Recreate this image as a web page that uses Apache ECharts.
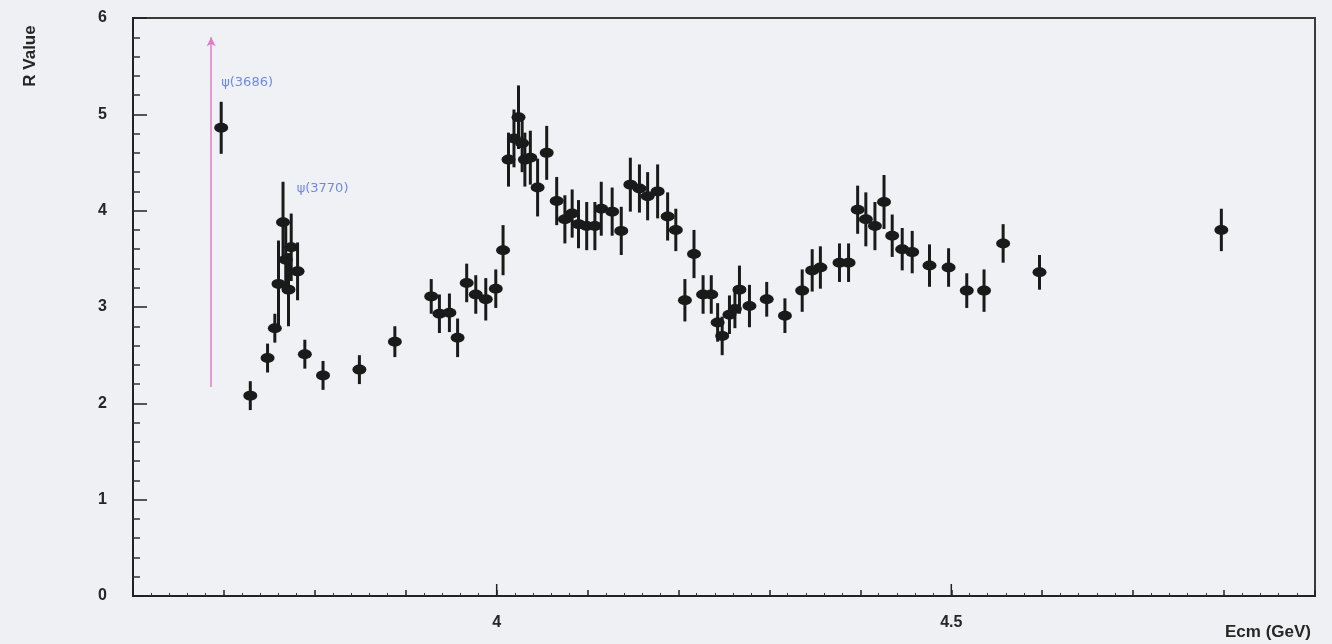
<!DOCTYPE html>
<html>
<head>
<meta charset="utf-8">
<script src="https://cdn.jsdelivr.net/npm/echarts@6/dist/echarts.min.js"></script>
<style>
html,body{margin:0;padding:0;background:#eef0f3;}
#chart{width:1332px;height:644px;}
</style>
</head>
<body>
<div id="chart"></div>
<script>
// Data
const energy = [3.697,3.729,3.748,3.756,3.760,3.765,3.768,3.771,3.774,3.781,3.789,3.809,3.849,3.888,
  3.928,3.937,3.948,3.957,3.967,3.977,3.988,3.999,4.007,4.013,4.019,4.024,4.028,4.031,4.037,4.045,4.055,
  4.066,4.075,4.083,4.090,4.099,4.108,4.115,4.127,4.137,4.147,4.157,4.166,4.177,4.188,4.197,4.207,4.217,
  4.227,4.236,4.243,4.248,4.256,4.262,4.267,4.278,4.297,4.317,4.336,4.347,4.356,4.377,4.387,4.397,4.406,
  4.416,4.426,4.435,4.446,4.457,4.476,4.497,4.517,4.536,4.557,4.597,4.797];
const rValue = [4.86,2.08,2.47,2.78,3.24,3.88,3.49,3.18,3.62,3.37,2.51,2.29,2.35,2.64,
  3.11,2.93,2.94,2.68,3.25,3.13,3.08,3.19,3.59,4.53,4.75,4.97,4.70,4.53,4.55,4.24,4.60,
  4.10,3.91,3.97,3.86,3.84,3.84,4.02,3.99,3.79,4.27,4.23,4.15,4.20,3.94,3.80,3.07,3.55,
  3.13,3.13,2.84,2.70,2.92,2.98,3.18,3.01,3.08,2.91,3.17,3.38,3.41,3.46,3.46,4.01,3.91,
  3.84,4.09,3.74,3.60,3.57,3.43,3.41,3.17,3.17,3.66,3.36,3.80];
const rError = [0.27,0.15,0.15,0.15,0.45,0.42,0.35,0.38,0.35,0.30,0.15,0.15,0.15,0.16,
  0.18,0.20,0.20,0.20,0.20,0.20,0.22,0.20,0.26,0.28,0.30,0.33,0.30,0.28,0.28,0.30,0.28,
  0.25,0.25,0.25,0.25,0.25,0.25,0.28,0.25,0.25,0.28,0.25,0.25,0.28,0.25,0.22,0.22,0.25,
  0.20,0.20,0.20,0.20,0.20,0.20,0.25,0.22,0.18,0.18,0.22,0.22,0.22,0.20,0.20,0.25,0.28,
  0.25,0.28,0.22,0.22,0.22,0.22,0.20,0.18,0.22,0.20,0.18,0.22];

const xLabelValues = [4, 4.5];
const resonanceX = [3.686];
const resonanceRange = [2.17, 5.8];
const resonanceLabels = ['ψ(3686)', 'ψ(3770)'];
const resonanceLabelX = [3.697, 3.780];
const resonanceLabelY = [5.33, 4.23];

const points = energy.map((e, i) => [e, rValue[i], rError[i]]);

const chart = echarts.init(document.getElementById('chart'), null, {renderer: 'canvas'});
const labelFont = {color: '#262626', fontSize: 16, fontWeight: 'bold', fontFamily: 'Liberation Sans, Arial, sans-serif'};

chart.setOption({
  backgroundColor: '#eef0f3',
  animation: false,
  grid: {left: 133, right: 17, top: 18, bottom: 48, show: true, borderColor: '#3a3a3a', borderWidth: 2, backgroundColor: '#eff1f4'},
  xAxis: {
    type: 'value', min: 3.6, max: 4.9, interval: 0.1,
    axisLine: {onZero: false, lineStyle: {color: '#222', width: 2}},
    axisTick: {inside: true, length: 6, lineStyle: {color: '#222', width: 1.5}},
    minorTick: {show: true, splitNumber: 5, length: 3, lineStyle: {color: '#333', width: 1}},
    splitLine: {show: false},
    axisLabel: Object.assign({margin: 19, formatter: v => {
      const hit = xLabelValues.find(t => Math.abs(t - v) < 1e-6);
      return hit === undefined ? '' : String(hit);
    }}, labelFont)
  },
  yAxis: {
    type: 'value', min: 0, max: 6, interval: 1,
    axisLine: {lineStyle: {color: '#222', width: 2}},
    axisTick: {inside: true, length: 14, lineStyle: {color: '#222', width: 1.5}},
    minorTick: {show: true, splitNumber: 5, length: 7, lineStyle: {color: '#333', width: 1.5}},
    splitLine: {show: false},
    axisLabel: Object.assign({margin: 26}, labelFont)
  },
  graphic: [
    {type: 'text', x: 30, y: 56, rotation: Math.PI / 2, style: {text: 'R Value', fill: '#262626', font: 'bold 17px Liberation Sans, Arial, sans-serif', textAlign: 'center', textVerticalAlign: 'middle'}},
    {type: 'text', x: 1311, y: 632, style: {text: 'Ecm (GeV)', fill: '#262626', font: 'bold 17px Liberation Sans, Arial, sans-serif', textAlign: 'right', textVerticalAlign: 'middle'}}
  ],
  series: [
    {
      name: 'majorTicks', type: 'custom', silent: true,
      data: xLabelValues.map(v => [v, 0]),
      renderItem: (params, api) => {
        const p = api.coord([api.value(0), 0]);
        return {type: 'line', shape: {x1: p[0], y1: p[1], x2: p[0], y2: p[1] - 12}, style: {stroke: '#222', lineWidth: 1.5}};
      }
    },
    {
      name: 'resonance', type: 'line', silent: true, data: [], symbol: 'none',
      markLine: {
        silent: true, symbol: ['none', 'arrow'], symbolSize: [7, 9],
        label: {show: false},
        lineStyle: {color: '#e27cc8', width: 1.5, type: 'solid', opacity: 1},
        data: resonanceX.map(x => [{coord: [x, resonanceRange[0]]}, {coord: [x, resonanceRange[1]]}])
      }
    },
    {
      name: 'labels', type: 'scatter', silent: true, symbolSize: 0,
      data: resonanceLabels.map((t, i) => ({value: [resonanceLabelX[i], resonanceLabelY[i]], name: t})),
      label: {show: true, position: 'right', distance: 0, formatter: p => p.name, color: '#4f6fe6', fontSize: 13, fontFamily: 'DejaVu Sans, sans-serif'}
    },
    {
      name: 'errors', type: 'custom', silent: true,
      data: points,
      renderItem: (params, api) => {
        const x = api.value(0), y = api.value(1), e = api.value(2);
        const a = api.coord([x, y - e]);
        const b = api.coord([x, y + e]);
        return {type: 'line', shape: {x1: a[0], y1: a[1], x2: b[0], y2: b[1]}, style: {stroke: '#1a1a1a', lineWidth: 3}};
      }
    },
    {
      name: 'R', type: 'scatter', silent: true,
      data: points.map(p => [p[0], p[1]]),
      symbol: 'circle', symbolSize: [14, 10],
      itemStyle: {color: '#1a1a1a', opacity: 1}
    }
  ]
});
</script>
</body>
</html>
